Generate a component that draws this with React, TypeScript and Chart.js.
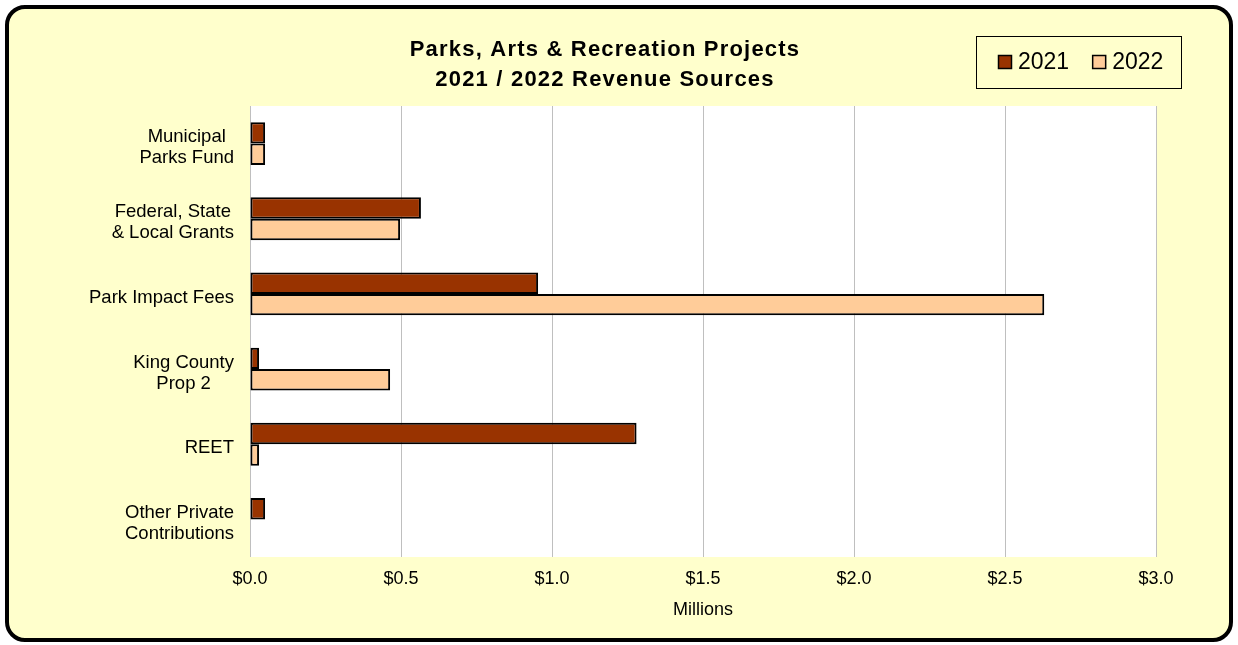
import React, { useEffect, useRef } from "react";
import { Chart, registerables } from "chart.js";

Chart.register(...registerables);

const categories: string[][] = [
  ["Municipal", "Parks Fund"],
  ["Federal, State", "& Local Grants"],
  ["Park Impact Fees"],
  ["King County", "Prop 2"],
  ["REET"],
  ["Other Private", "Contributions"],
];
const values2021 = [0.05, 0.566, 0.954, 0.03, 1.28, 0.05];
const values2022 = [0.05, 0.497, 2.63, 0.464, 0.03, 0];
const seriesLabels = ["2021", "2022"];
const seriesColors = ["#993300", "#FFCC99"];
const titleLines = ["Parks, Arts & Recreation Projects", "2021 / 2022 Revenue Sources"];
const xAxisTitle = "Millions";
const xMin = 0;
const xMax = 3.0;
const xStep = 0.5;

const FONT = "'Liberation Sans', Arial, Helvetica, sans-serif";
const BG = "#FFFFCC";

const CANVAS_W = 1220;
const CANVAS_H = 629;

const decorPlugin = {
  id: "decor",
  beforeDraw(chart: any) {
    const { ctx, chartArea } = chart;
    ctx.save();
    ctx.fillStyle = "#FFFFFF";
    ctx.fillRect(chartArea.left, chartArea.top, chartArea.right - chartArea.left, chartArea.bottom - chartArea.top);
    ctx.restore();
  },
  afterDraw(chart: any) {
    const { ctx } = chart;
    const yScale = chart.scales.y;
    ctx.save();
    // Title
    ctx.fillStyle = "#000";
    ctx.font = `bold 22px ${FONT}`;
    ctx.textAlign = "center";
    ctx.textBaseline = "middle";
    (ctx as any).letterSpacing = "1.2px";
    titleLines.forEach((line, i) => {
      ctx.fillText(line, 596, 41 + i * 30);
    });
    (ctx as any).letterSpacing = "0px";

    // Category labels (multi-line, centered block, right edge fixed)
    ctx.font = `18.5px ${FONT}`;
    const lh = 21;
    const rightEdge = yScale.right - 16;
    categories.forEach((lines, i) => {
      const cy = yScale.getPixelForTick(i);
      const widths = lines.map((l) => ctx.measureText(l).width);
      const bw = Math.max(...widths);
      const cx = rightEdge - bw / 2;
      const startY = cy - ((lines.length - 1) * lh) / 2 + 4;
      lines.forEach((l, j) => {
        ctx.fillText(l, cx, startY + j * lh);
      });
    });

    // Legend with box
    const L = 967, T = 27, W = 205, H = 52;
    ctx.strokeStyle = "#000";
    ctx.lineWidth = 1;
    ctx.strokeRect(L + 0.5, T + 0.5, W, H);
    ctx.font = `23px ${FONT}`;
    ctx.textAlign = "left";
    let x = L + 22;
    const cy = T + H / 2;
    chart.data.datasets.forEach((ds: any) => {
      ctx.fillStyle = ds.backgroundColor;
      ctx.fillRect(x, cy - 7, 14, 14);
      ctx.lineWidth = 1.5;
      ctx.strokeStyle = "#000";
      ctx.strokeRect(x + 0.5, cy - 6.5, 13, 13);
      x += 20;
      ctx.fillStyle = "#000";
      ctx.fillText(ds.label, x, cy + 1);
      x += ctx.measureText(ds.label).width + 23;
    });
    ctx.restore();
  },
};

export default function App() {
  const canvasRef = useRef<HTMLCanvasElement | null>(null);

  useEffect(() => {
    if (!canvasRef.current) return;
    const chart = new Chart(canvasRef.current, {
      type: "bar",
      data: {
        labels: categories.map((c) => c.join(" ")),
        datasets: [
          {
            label: seriesLabels[0],
            data: values2021,
            backgroundColor: seriesColors[0],
            borderColor: "#000000",
            borderWidth: 2,
          },
          {
            label: seriesLabels[1],
            data: values2022,
            backgroundColor: seriesColors[1],
            borderColor: "#000000",
            borderWidth: 2,
          },
        ],
      },
      options: {
        indexAxis: "y",
        responsive: false,
        animation: false,
        devicePixelRatio: 1,
        layout: { padding: { top: 97, right: 73, bottom: 17, left: 0 } },
        datasets: {
          bar: { categoryPercentage: 0.57, barPercentage: 1.0, borderSkipped: false },
        },
        plugins: {
          legend: { display: false },
          title: { display: false },
          tooltip: { enabled: false },
        },
        scales: {
          x: {
            type: "linear",
            min: xMin,
            max: xMax,
            ticks: {
              stepSize: xStep,
              padding: 11,
              color: "#000",
              font: { family: FONT, size: 18 },
              callback: (v: any) => "$" + Number(v).toFixed(1),
            },
            grid: { color: "#BFBFBF", lineWidth: 1, drawTicks: false },
            border: { display: false },
            title: {
              display: true,
              text: xAxisTitle,
              color: "#000",
              font: { family: FONT, size: 18 },
              padding: { top: 0, bottom: 0 },
            },
            afterFit: (scale: any) => {
              scale.height = 64;
            },
          },
          y: {
            type: "category",
            ticks: { display: false },
            grid: { display: false, drawTicks: false },
            border: { display: false },
            afterFit: (scale: any) => {
              scale.width = 241;
            },
          },
        },
      },
      plugins: [decorPlugin],
    } as any);
    return () => chart.destroy();
  }, []);

  return (
    <div style={{ position: "absolute", left: 0, top: 0, width: 1238, height: 645, background: "#FFFFFF" }}>
      <div
        style={{
          position: "absolute",
          left: 5,
          top: 5,
          width: 1228,
          height: 637,
          boxSizing: "border-box",
          border: "4px solid #000",
          borderRadius: 20,
          background: BG,
          overflow: "hidden",
        }}
      >
        <canvas
          ref={canvasRef}
          width={CANVAS_W}
          height={CANVAS_H}
          style={{ position: "absolute", left: 0, top: 0, width: CANVAS_W, height: CANVAS_H }}
        />
      </div>
    </div>
  );
}
